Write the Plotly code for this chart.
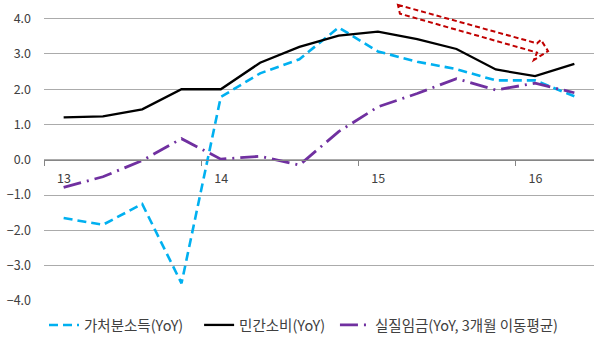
import plotly.graph_objects as go

# Quarterly series, 2013 Q1 - 2016 Q2 (YoY, %)
quarters = ["13Q1", "13Q2", "13Q3", "13Q4", "14Q1", "14Q2", "14Q3", "14Q4",
            "15Q1", "15Q2", "15Q3", "15Q4", "16Q1", "16Q2"]
disposable_income = [-1.65, -1.84, -1.25, -3.50, 1.78, 2.45, 2.85, 3.75,
                     3.07, 2.78, 2.57, 2.25, 2.25, 1.80]
private_consumption = [1.20, 1.23, 1.43, 2.00, 2.00, 2.75, 3.20, 3.52,
                       3.63, 3.42, 3.14, 2.56, 2.37, 2.72]
real_wage = [-0.78, -0.48, -0.02, 0.60, 0.02, 0.10, -0.15, 0.80,
             1.50, 1.88, 2.30, 1.98, 2.17, 1.90]
year_labels = ["13", "14", "15", "16"]

names = ["가처분소득(YoY)", "민간소비(YoY)", "실질임금(YoY, 3개월 이동평균)"]

x = list(range(len(quarters)))
font = "Noto Sans CJK KR"

fig = go.Figure()
fig.add_trace(go.Scatter(x=x, y=disposable_income, name=names[0], mode="lines",
                         legend="legend",
                         line=dict(color="#00B0F0", width=2.6, dash="9px,5px")))
fig.add_trace(go.Scatter(x=x, y=private_consumption, name=names[1], mode="lines",
                         legend="legend2",
                         line=dict(color="#000000", width=2.3)))
fig.add_trace(go.Scatter(x=x, y=real_wage, name=names[2], mode="lines",
                         legend="legend3",
                         line=dict(color="#7030A0", width=2.8, dash="18px,6px,2px,6px")))

# Year tick marks sit on the quarter boundaries, one every four quarters
year_ticks = [i - 0.5 for i in x[::4]]

# Outlined block arrow (dashed) marking the downward trend
arrow_path = ("M 8.51 4.39 L 12.05 3.30 L 12.15 3.40 L 12.33 3.08 "
              "L 11.97 2.83 L 12.05 3.04 L 8.56 4.14 Z")
fig.add_shape(type="path", path=arrow_path, xref="x", yref="y",
              line=dict(color="#C00000", width=2, dash="5px,3px"),
              fillcolor="rgba(0,0,0,0)")


def legend_box(xpos):
    return dict(orientation="h", x=xpos, xanchor="left", y=-0.08, yanchor="middle",
                font=dict(family=font, size=14.5, color="#404040"),
                bgcolor="rgba(0,0,0,0)", itemwidth=30)


fig.update_layout(
    width=594, height=342,
    margin=dict(l=44, r=0, t=1, b=41),
    paper_bgcolor="white", plot_bgcolor="white",
    font=dict(family=font, size=12, color="#404040"),
    showlegend=True,
    legend=legend_box(0.0),
    legend2=legend_box(0.282),
    legend3=legend_box(0.529),
    xaxis=dict(range=[-0.5, len(quarters) - 0.5], anchor="free",
               position=4 / 8.5, showgrid=False, zeroline=False,
               showline=True, linecolor="#868686", linewidth=1,
               ticks="outside", ticklen=5, tickcolor="#868686",
               tickvals=year_ticks, ticktext=year_labels,
               ticklabelshift=20, ticklabelstandoff=2,
               tickfont=dict(family=font, size=12.5, color="#404040")),
    yaxis=dict(range=[-4, 4.5], tick0=0, dtick=1, tickformat=".1f",
               showgrid=True, gridcolor="#ababab", gridwidth=1,
               zeroline=False, showline=False, ticks="",
               ticklabelstandoff=12,
               tickfont=dict(family=font, size=12.5, color="#404040")),
)

fig.write_html("out.html")
